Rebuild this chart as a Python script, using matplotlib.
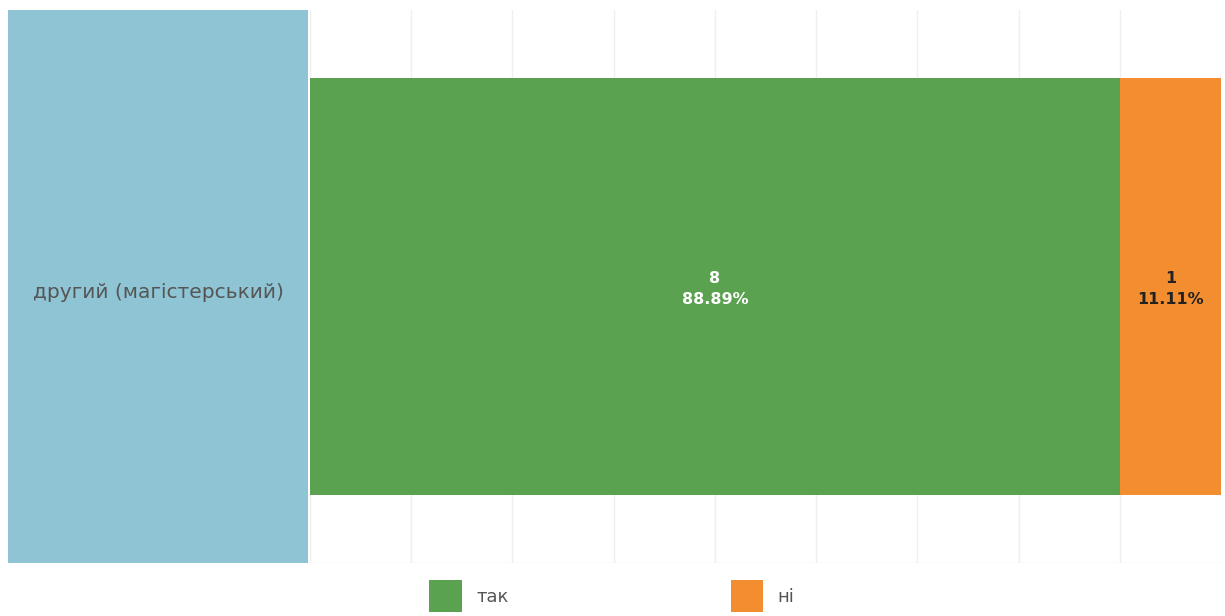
import matplotlib.pyplot as plt
from matplotlib.patches import Patch

categories = ["другий (магістерський)"]
series_names = ["так", "ні"]
tak_values = [8]
ni_values = [1]

colors = ["#5aa150", "#f28e2f"]
label_colors = ["white", "#222222"]
panel_color = "#8ec4d4"

fig = plt.figure(figsize=(12.25, 6.16), dpi=100)
W, H = 1225, 616

# category label panel on the left
ax_lab = fig.add_axes([8 / W, 53 / H, 300 / W, 553 / H])
ax_lab.set_facecolor(panel_color)
ax_lab.set_xticks([])
ax_lab.set_yticks([])
for s in ax_lab.spines.values():
    s.set_visible(False)
ax_lab.text(0.5, 0.49, categories[0], ha="center", va="center",
            fontsize=14.5, color="#555555", family="DejaVu Sans",
            transform=ax_lab.transAxes)

# main stacked bar
ax = fig.add_axes([310 / W, 53 / H, 911 / W, 553 / H])
total = tak_values[0] + ni_values[0]
y = [0]
left = [0]
for i, (name, vals) in enumerate(zip(series_names, [tak_values, ni_values])):
    bars = ax.barh(y, vals, left=left, height=0.754, color=colors[i], label=name)
    for b, v in zip(bars, vals):
        cx = b.get_x() + b.get_width() / 2
        ax.text(cx, -0.005, f"{v}\n{v / total * 100:.2f}%", ha="center", va="center",
                fontsize=11.5, fontweight="bold", color=label_colors[i],
                linespacing=1.5)
    left = [l + v for l, v in zip(left, vals)]

ax.set_xlim(0, total)
ax.set_ylim(-0.5, 0.5)
ax.set_xticks(range(0, total + 1))
ax.set_yticks([])
ax.tick_params(axis="x", length=0, labelbottom=False)
ax.grid(axis="x", color="#efefef", linewidth=1)
ax.set_axisbelow(True)
for s in ax.spines.values():
    s.set_visible(False)
ax.axhline(-0.5, color="#efefef", linewidth=1)

handles = [Patch(facecolor=c, edgecolor="none") for c in colors]
fig.legend(handles, series_names, loc="center", bbox_to_anchor=(612 / W, 20 / H),
           ncol=2, frameon=False, fontsize=13, handlelength=1.8, handleheight=2.3,
           handletextpad=0.8, columnspacing=12.3, labelcolor="#555555")

fig.savefig("out.png", dpi=100)
